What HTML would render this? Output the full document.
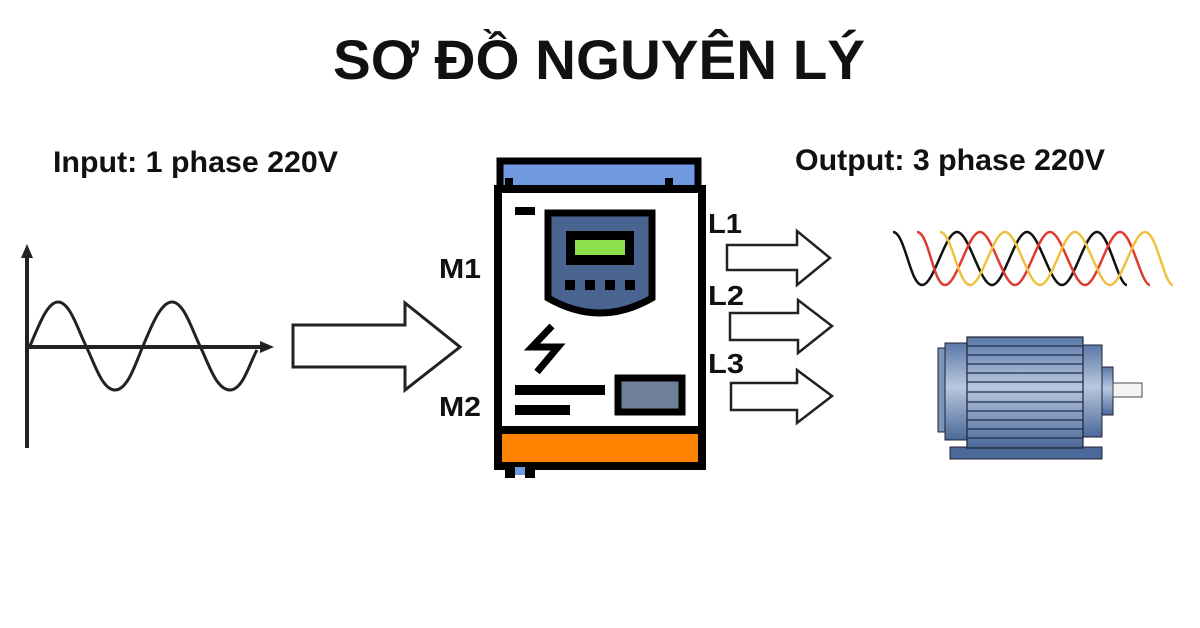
<!DOCTYPE html>
<html><head><meta charset="utf-8"><style>html,body{margin:0;padding:0;background:#fff}svg{display:block}</style></head>
<body>
<svg width="1200" height="628" viewBox="0 0 1200 628" xmlns="http://www.w3.org/2000/svg" font-family="Liberation Sans, sans-serif" font-weight="bold">
<rect width="1200" height="628" fill="#fff"/>
<text x="333" y="79" font-size="56" textLength="532" lengthAdjust="spacingAndGlyphs" fill="#111">SƠ ĐỒ NGUYÊN LÝ</text>
<text x="53" y="172" font-size="30" textLength="285" lengthAdjust="spacingAndGlyphs" fill="#111">Input: 1 phase 220V</text>
<text x="795" y="170" font-size="30" textLength="310" lengthAdjust="spacingAndGlyphs" fill="#111">Output: 3 phase 220V</text>
<text x="439" y="278" font-size="28" textLength="42" lengthAdjust="spacingAndGlyphs" fill="#111">M1</text>
<text x="439" y="416" font-size="28" textLength="42" lengthAdjust="spacingAndGlyphs" fill="#111">M2</text>
<text x="708" y="233" font-size="28" textLength="34" lengthAdjust="spacingAndGlyphs" fill="#111">L1</text>
<text x="708" y="305" font-size="28" textLength="36" lengthAdjust="spacingAndGlyphs" fill="#111">L2</text>
<text x="708" y="373" font-size="28" textLength="36" lengthAdjust="spacingAndGlyphs" fill="#111">L3</text>

<!-- input graph -->
<line x1="27" y1="252" x2="27" y2="448" stroke="#222" stroke-width="4"/>
<polygon points="27,244 21,258 33,258" fill="#222"/>
<line x1="27" y1="347" x2="265" y2="347" stroke="#222" stroke-width="4"/>
<polygon points="274,347 260,341 260,353" fill="#222"/>
<path d="M30,346 C40,322 48,302 58,302 C70,302 78,330 86,346 C94,362 102,390 115,390 C128,390 136,362 143,346 C150,330 160,302 172,302 C184,302 192,330 200,346 C208,362 216,390 230,390 C243,390 250,362 257,350" fill="none" stroke="#222" stroke-width="3"/>
<polygon points="293,325 405,325 405,303 460,347 405,390 405,367 293,367" fill="#fff" stroke="#222" stroke-width="3" stroke-linejoin="miter"/>

<!-- device -->
<rect x="500" y="161" width="198" height="28" fill="#6f9ae0" stroke="#000" stroke-width="7"/>
<rect x="505" y="178" width="8" height="10" fill="#000"/><rect x="665" y="178" width="8" height="10" fill="#000"/>
<rect x="498" y="189" width="204" height="277" fill="#fff" stroke="#000" stroke-width="8"/>
<rect x="502" y="430" width="196" height="32" fill="#ff8200"/>
<line x1="498" y1="430" x2="702" y2="430" stroke="#000" stroke-width="8"/>
<rect x="515" y="207" width="20" height="8" fill="#000"/>
<path d="M548,213 H652 V298 Q600,328 548,298 Z" fill="#4a6491" stroke="#000" stroke-width="7"/>
<rect x="566" y="231" width="68" height="34" fill="#000"/>
<rect x="575" y="240" width="50" height="15" fill="#8ee04a"/>
<rect x="565" y="280" width="10" height="10" fill="#000"/><rect x="585" y="280" width="10" height="10" fill="#000"/><rect x="605" y="280" width="10" height="10" fill="#000"/><rect x="625" y="280" width="10" height="10" fill="#000"/>
<polyline points="552,326 532,347 558,347 537,372" fill="none" stroke="#000" stroke-width="7"/>
<rect x="515" y="385" width="90" height="10" fill="#000"/>
<rect x="515" y="405" width="55" height="10" fill="#000"/>
<rect x="618" y="378" width="64" height="34" fill="#6f7f99" stroke="#000" stroke-width="7"/>
<rect x="505" y="466" width="10" height="12" fill="#000"/><rect x="525" y="466" width="10" height="12" fill="#000"/><rect x="515" y="467" width="10" height="8" fill="#6f9ae0"/>

<!-- output arrows -->
<polygon points="727,245 797,245 797,231 830,258 797,285 797,270 727,270" fill="#fff" stroke="#222" stroke-width="2.5"/>
<polygon points="730,313 798,313 798,300 832,326 798,353 798,340 730,340" fill="#fff" stroke="#222" stroke-width="2.5"/>
<polygon points="731,383 797,383 797,370 832,396 797,423 797,410 731,410" fill="#fff" stroke="#222" stroke-width="2.5"/>

<!-- three phase waves -->
<g fill="none" stroke-width="2.5">
<path id="w" d="M893,232 C905,232 910,285 922,285 C934,285 945,232 957,232 C969,232 980,285 992,285 C1004,285 1015,232 1027,232 C1039,232 1050,285 1062,285 C1074,285 1085,232 1097,232 C1109,232 1118,285 1127,285" stroke="#111"/>
<path d="M917,232 C929,232 933,285 945,285 C957,285 968,232 980,232 C992,232 1003,285 1015,285 C1027,285 1038,232 1050,232 C1062,232 1073,285 1085,285 C1097,285 1108,232 1120,232 C1132,232 1141,285 1150,285" stroke="#e03a2e"/>
<path d="M940,232 C952,232 958,285 970,285 C982,285 993,232 1005,232 C1017,232 1028,285 1040,285 C1052,285 1063,232 1075,232 C1087,232 1098,285 1110,285 C1122,285 1133,232 1145,232 C1157,232 1164,285 1173,285" stroke="#f0c040"/>
</g>

<!-- motor -->
<defs><linearGradient id="mg" x1="0" y1="0" x2="0" y2="1"><stop offset="0" stop-color="#5a78a8"/><stop offset="0.45" stop-color="#b8c8e0"/><stop offset="1" stop-color="#4a6898"/></linearGradient></defs>
<rect x="938" y="348" width="8" height="84" fill="#7d93b8" stroke="#223" stroke-width="1"/>
<rect x="945" y="343" width="23" height="97" fill="url(#mg)" stroke="#223" stroke-width="1"/>
<rect x="1083" y="345" width="19" height="92" fill="url(#mg)" stroke="#223" stroke-width="1"/>
<rect x="1102" y="367" width="11" height="48" fill="url(#mg)" stroke="#223" stroke-width="1"/>
<rect x="1113" y="383" width="29" height="14" fill="#f4f4f4" stroke="#445" stroke-width="1"/>
<rect x="950" y="447" width="152" height="12" fill="#4a6898" stroke="#223" stroke-width="1"/>
<rect x="967" y="337" width="116" height="111" fill="url(#mg)" stroke="#223" stroke-width="1.2"/>
<g stroke="#1e2e48" stroke-width="1.3">
<line x1="967" y1="346" x2="1083" y2="346"/><line x1="967" y1="355" x2="1083" y2="355"/><line x1="967" y1="364" x2="1083" y2="364"/><line x1="967" y1="373" x2="1083" y2="373"/><line x1="967" y1="382" x2="1083" y2="382"/><line x1="967" y1="392" x2="1083" y2="392"/><line x1="967" y1="402" x2="1083" y2="402"/><line x1="967" y1="411" x2="1083" y2="411"/><line x1="967" y1="420" x2="1083" y2="420"/><line x1="967" y1="429" x2="1083" y2="429"/><line x1="967" y1="438" x2="1083" y2="438"/>
</g>
</svg>
</body></html>
